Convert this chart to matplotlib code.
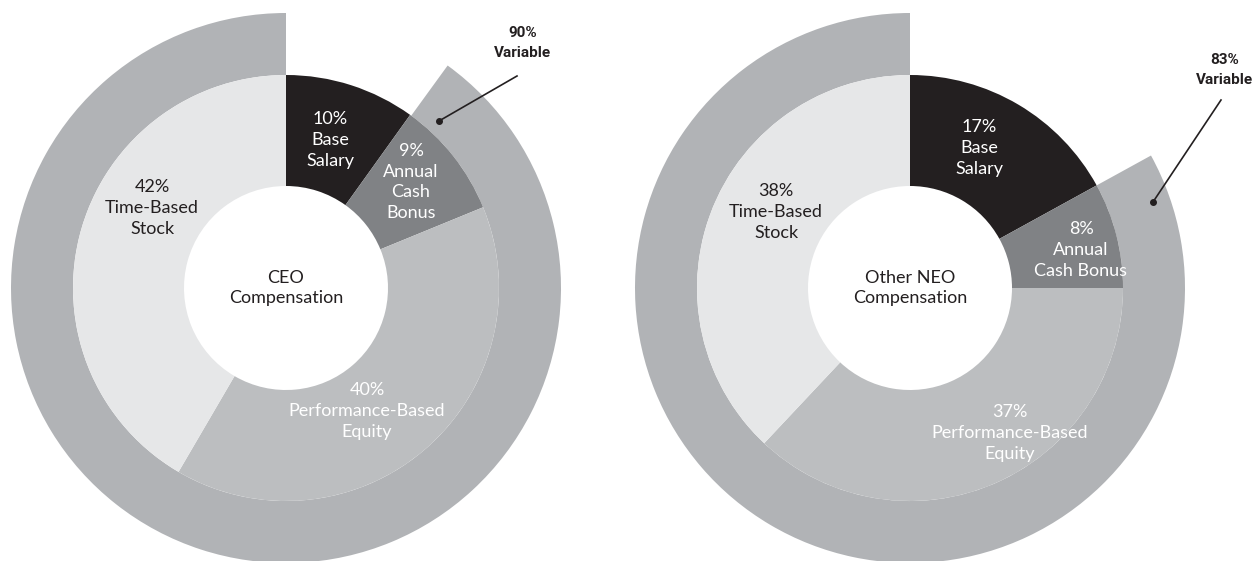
import matplotlib
matplotlib.use("Agg")
from matplotlib import pyplot as plt

# DATA
segments = ["Base\nSalary", "Annual\nCash\nBonus",
            "Performance-Based\nEquity", "Time-Based\nStock"]
neo_segments = ["Base\nSalary", "Annual\nCash Bonus",
                "Performance-Based\nEquity", "Time-Based\nStock"]
ceo_pct = [10, 9, 40, 42]
neo_pct = [17, 8, 37, 38]
ceo_variable = 90
neo_variable = 83
titles = ["CEO\nCompensation", "Other NEO\nCompensation"]

# STYLE
seg_colors = ["#231f20", "#808285", "#bcbec0", "#e6e7e8"]
txt_colors = ["white", "white", "white", "#231f20"]
ring_color = "#b1b3b6"
dark = "#231f20"

W, H = 1256, 561
R_OUT, R_MID, R_HOLE = 275, 213, 102

# LAYOUT (pixels, measured from top-left)
charts = [
    dict(center=(286, 288), pct=ceo_pct, names=segments,
         variable=ceo_variable, title=titles[0],
         label_pos=[(330, 140), (411, 182), (367, 411), (152, 208)],
         dot=(439, 121), line_end=(517, 76), var_pos=(523, 43)),
    dict(center=(910, 288), pct=neo_pct, names=neo_segments,
         variable=neo_variable, title=titles[1],
         label_pos=[(979, 148), (1081, 250), (1010, 433), (776, 212)],
         dot=(1153, 202), line_end=(1221, 100), var_pos=(1225, 70)),
]


def px(p):
    return p[0], H - p[1]


fig = plt.figure(figsize=(W / 100, H / 100), dpi=100)
ax = fig.add_axes([0, 0, 1, 1])

main_font = ["Lato", "DejaVu Sans"]
bold_font = ["Roboto", "DejaVu Sans"]

for c in charts:
    cx, cy = px(c["center"])

    # outer ring: variable pay, starts where base salary ends
    ax.pie([100 - c["variable"], c["variable"]], colors=["none", ring_color],
           radius=R_OUT, center=(cx, cy), startangle=90, counterclock=False,
           wedgeprops=dict(width=R_OUT - R_MID, linewidth=0), frame=True)

    # inner donut
    ax.pie(c["pct"], colors=seg_colors, radius=R_MID, center=(cx, cy),
           startangle=90, counterclock=False,
           wedgeprops=dict(width=R_MID - R_HOLE, linewidth=0), frame=True)

    for val, name, col, pos in zip(c["pct"], c["names"], txt_colors,
                                   c["label_pos"]):
        x, y = px(pos)
        ax.text(x, y, f"{val}%\n{name}", color=col, fontsize=13,
                family=main_font, ha="center", va="center",
                linespacing=1.38)

    ax.text(cx, cy, c["title"], color=dark, fontsize=13, family=main_font,
            ha="center", va="center", linespacing=1.38)

    # callout
    dx, dy = px(c["dot"])
    ex, ey = px(c["line_end"])
    ax.plot([dx, ex], [dy, ey], color=dark, linewidth=1.2)
    ax.plot(dx, dy, "o", color=dark, markersize=4)
    vx, vy = px(c["var_pos"])
    ax.text(vx, vy, f"{c['variable']}%\nVariable", color=dark, fontsize=11,
            family=bold_font, fontweight="bold", ha="center", va="center",
            linespacing=1.5)

ax.set_xlim(0, W)
ax.set_ylim(0, H)
ax.set_aspect("equal")
ax.axis("off")

fig.savefig("out.png", dpi=100, facecolor="white")
